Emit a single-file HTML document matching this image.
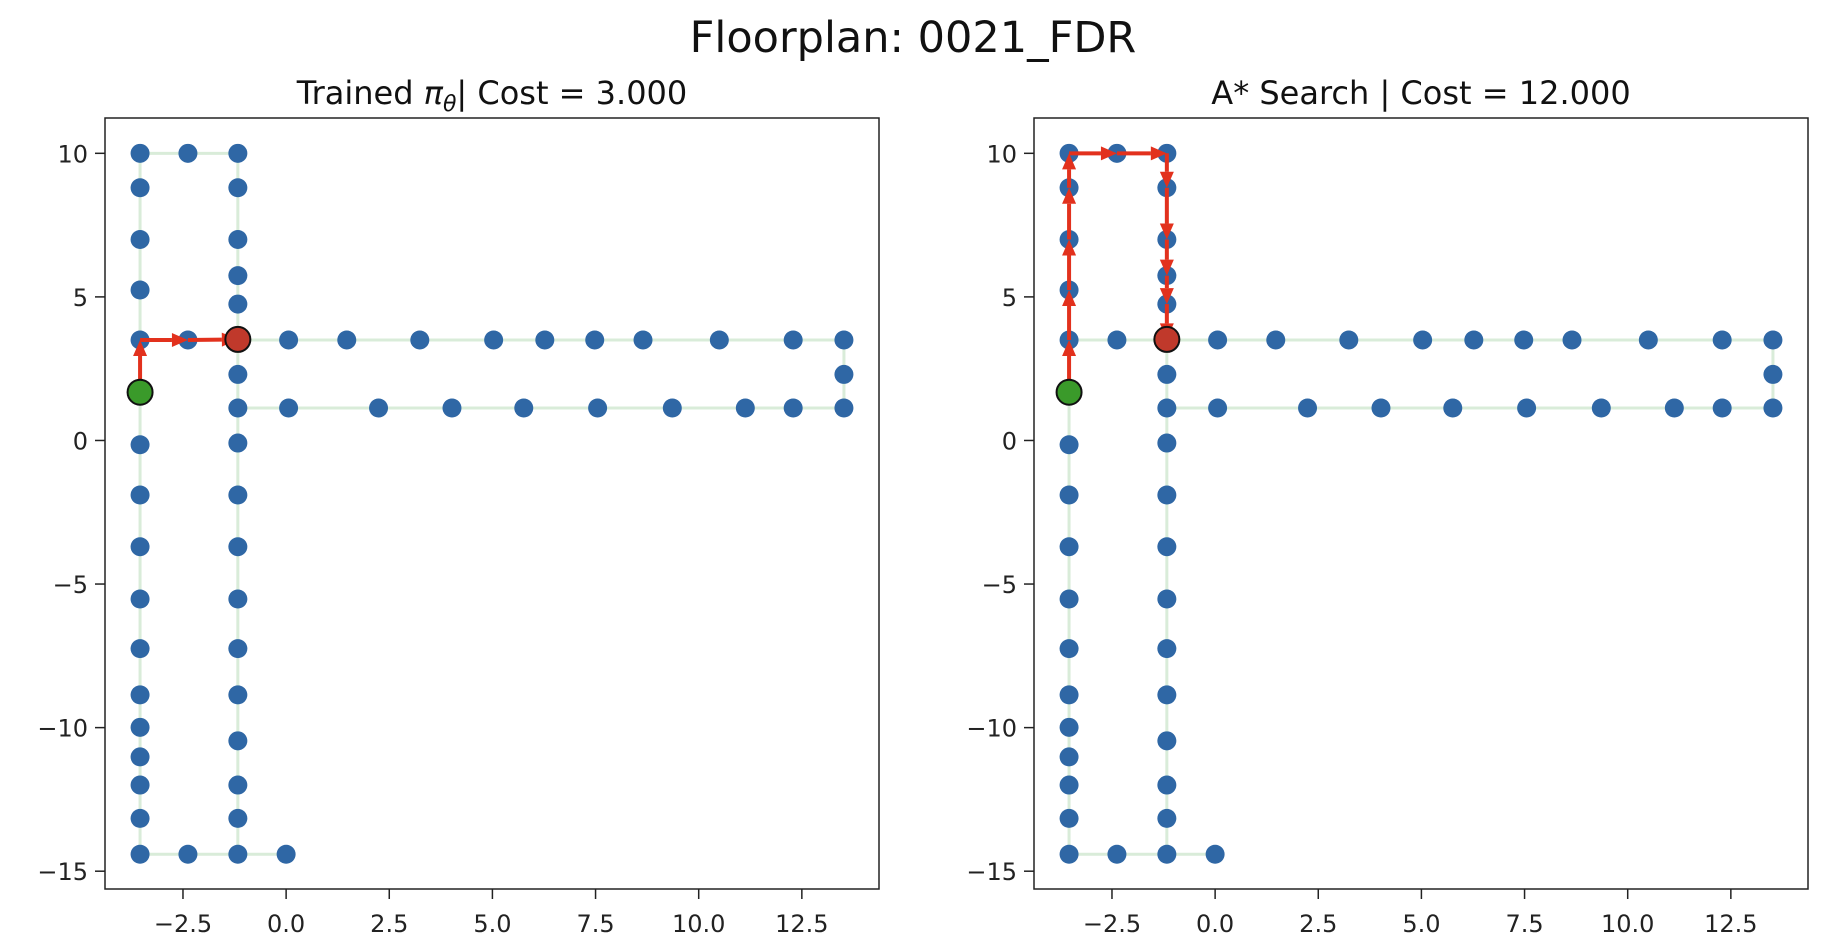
<!DOCTYPE html>
<html><head><meta charset="utf-8"><style>
body{margin:0;background:#fff;}
svg{display:block;font-family:"DejaVu Sans","Liberation Sans",sans-serif;}
</style></head><body>
<svg id="fig" width="1826" height="950" viewBox="0 0 1826 950" xmlns="http://www.w3.org/2000/svg">
<text x="913" y="52" font-size="43" text-anchor="middle" fill="#111">Floorplan: 0021_FDR</text>
</svg>
<script>
// left column
const colAY = [10,8.8,7.0,5.24,3.5,-0.15,-1.9,-3.7,-5.52,-7.25,-8.86,-9.99,-11.02,-12.0,-13.16,-14.41];
const colAX = -3.54;
// second column
const colBY = [10,8.8,7.0,5.74,4.75,3.52,2.30,1.13,-0.09,-1.9,-3.7,-5.52,-7.25,-8.86,-10.46,-12.0,-13.16,-14.41];
const colBX = -1.17;
// row at y=3.5 (right of left column)
const rowHighX = [-2.38,0.06,1.47,3.24,5.03,6.27,7.48,8.65,10.5,12.29,13.52];
const rowHighY = 3.5;
// row at y=1.13
const rowLowX = [0.06,2.24,4.02,5.76,7.55,9.36,11.13,12.29,13.52];
const rowLowY = 1.13;
// misc nodes
const extraX = [-2.38,-2.38,0.0,13.52];
const extraY = [10,-14.41,-14.41,2.30];
// edges as [x1,y1,x2,y2]
const edgeList = [
 [-3.54,10,-3.54,-14.41],[-1.17,10,-1.17,-14.41],[-3.54,10,-1.17,10],
 [-3.54,3.5,13.52,3.5],[-1.17,1.13,13.52,1.13],[13.52,1.13,13.52,3.5],[-3.54,-14.41,0.0,-14.41]];
const startPt = [-3.54,1.68];
const goalPt = [-1.17,3.52];
const pathTrainedX = [-3.54,-3.54,-2.38,-1.17];
const pathTrainedY = [1.68,3.5,3.5,3.52];
const pathAstarX = [-3.54,-3.54,-3.54,-3.54,-3.54,-3.54,-2.38,-1.17,-1.17,-1.17,-1.17,-1.17,-1.17];
const pathAstarY = [1.68,3.5,5.24,7.0,8.8,10,10,10,8.8,7.0,5.74,4.75,3.52];
const xTicks = [-2.5,0.0,2.5,5.0,7.5,10.0,12.5];
const yTicks = [10,5,0,-5,-10,-15];
const xTickLabels = ["−2.5","0.0","2.5","5.0","7.5","10.0","12.5"];
const yTickLabels = ["10","5","0","−5","−10","−15"];
const titles = ["Trained π_θ| Cost = 3.000","A* Search | Cost = 12.000"];

const NS="http://www.w3.org/2000/svg";
const svg=document.getElementById('fig');
function mk(tag,attrs,parent){const e=document.createElementNS(NS,tag);for(const k in attrs)e.setAttribute(k,attrs[k]);(parent||svg).appendChild(e);return e;}
const XMIN=-4.39,XMAX=14.37,YMIN=-15.62,YMAX=11.23;
const panels=[{left:105,name:'trained'},{left:1034,name:'astar'}];
const TOP=118,BOT=889,W=774;
const allX=[],allY=[];
colAY.forEach(y=>{allX.push(colAX);allY.push(y);});
colBY.forEach(y=>{allX.push(colBX);allY.push(y);});
rowHighX.forEach(x=>{allX.push(x);allY.push(rowHighY);});
rowLowX.forEach(x=>{allX.push(x);allY.push(rowLowY);});
extraX.forEach((x,i)=>{allX.push(x);allY.push(extraY[i]);});
panels.forEach((p,pi)=>{
  const sx=v=>p.left+(v-XMIN)/(XMAX-XMIN)*W;
  const sy=v=>BOT-(v-YMIN)/(YMAX-YMIN)*(BOT-TOP);
  const g=mk('g',{});
  
  
  const t=mk('text',{x:p.left+W/2,y:104,'font-size':32,'text-anchor':'middle',fill:'#111'},g);
  
  
  if(pi===0){t.innerHTML='Trained <tspan font-style="italic">π</tspan><tspan font-style="italic" font-size="22" dy="7">θ</tspan><tspan dy="-7">| Cost = 3.000</tspan>';}
  else t.textContent=titles[1];
  edgeList.forEach(e=>{const l=mk('line',{x1:sx(e[0]),y1:sy(e[1]),x2:sx(e[2]),y2:sy(e[3]),stroke:'#d9ecd9','stroke-width':3},g);
    
    });
  for(let i=0;i<allX.length;i++){const c=mk('circle',{cx:sx(allX[i]),cy:sy(allY[i]),r:9.5,fill:'#2f67a5'},g);
    
    }
  const PX=pi===0?pathTrainedX:pathAstarX, PY=pi===0?pathTrainedY:pathAstarY;
  for(let i=0;i<PX.length-1;i++){
    const x1=sx(PX[i]),y1=sy(PY[i]),x2=sx(PX[i+1]),y2=sy(PY[i+1]);
    const dx=x2-x1,dy=y2-y1,L=Math.hypot(dx,dy),ux=dx/L,uy=dy/L;
    const hl=16,hw=7;
    const bx=x2-ux*hl,by=y2-uy*hl;
    const a=mk('g',{},g);
    
    
    mk('line',{x1:x1,y1:y1,x2:bx,y2:by,stroke:'#e2311d','stroke-width':4},a);
    mk('polygon',{points:`${x2},${y2} ${bx-uy*hw},${by+ux*hw} ${bx+uy*hw},${by-ux*hw}`,fill:'#e2311d'},a);
  }
  const s=mk('circle',{cx:sx(startPt[0]),cy:sy(startPt[1]),r:12.5,fill:'#3a9a2a',stroke:'#111','stroke-width':2},g);
  
  
  const gl=mk('circle',{cx:sx(goalPt[0]),cy:sy(goalPt[1]),r:12.5,fill:'#c0392b',stroke:'#111','stroke-width':2},g);
  
  
  const fr=mk('rect',{x:p.left,y:TOP,width:W,height:BOT-TOP,fill:'none',stroke:'#222','stroke-width':1.5},g);
  
  
  xTicks.forEach((v,i)=>{const x=sx(v);
    mk('line',{x1:x,y1:BOT,x2:x,y2:BOT+10,stroke:'#222','stroke-width':1.5},g);
    const tx=mk('text',{x:x,y:BOT+43,'font-size':24,'text-anchor':'middle',fill:'#222'},g);
    
    
    tx.textContent=xTickLabels[i];});
  yTicks.forEach((v,i)=>{const y=sy(v);
    mk('line',{x1:p.left-10,y1:y,x2:p.left,y2:y,stroke:'#222','stroke-width':1.5},g);
    const ty=mk('text',{x:p.left-17,y:y+9,'font-size':24,'text-anchor':'end',fill:'#222'},g);
    
    
    ty.textContent=yTickLabels[i];});
});
</script>
</body></html>
